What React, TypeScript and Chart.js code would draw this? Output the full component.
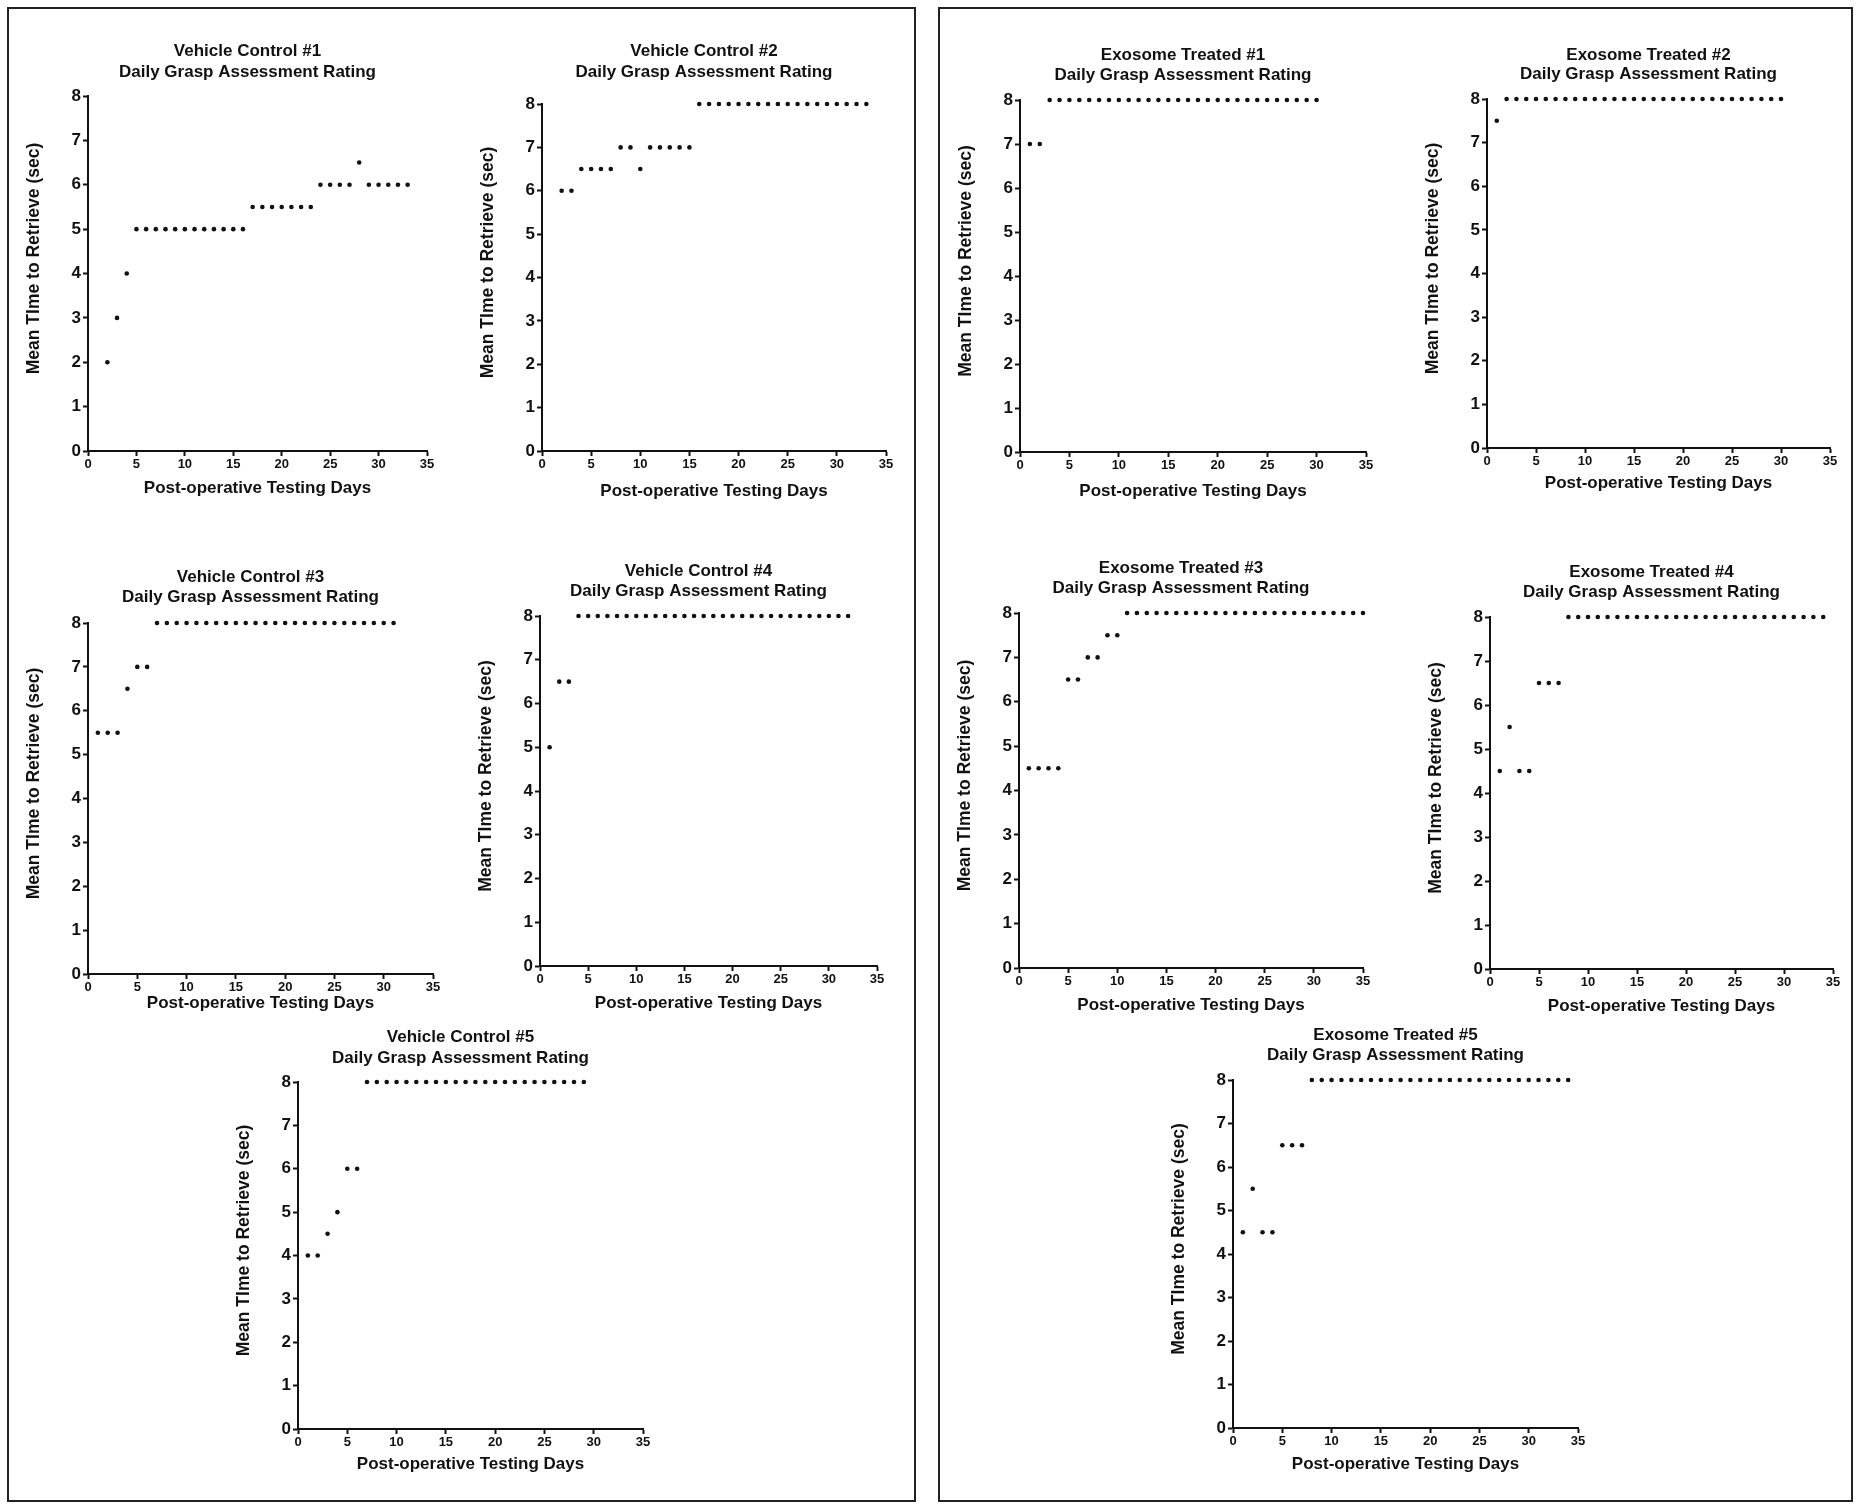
import React, { useEffect, useRef } from "react";
import { Chart, registerables } from "chart.js";

Chart.register(...registerables);

const FONT = '"Liberation Sans", Arial, Helvetica, sans-serif';
const INK = "#111";

// ---------- Data ----------
const xTicks = [0, 5, 10, 15, 20, 25, 30, 35];
const yTicks = [0, 1, 2, 3, 4, 5, 6, 7, 8];
const subtitle = "Daily Grasp Assessment Rating";
const xAxisTitle = "Post-operative Testing Days";
const yAxisTitle = "Mean TIme to Retrieve (sec)";

const vc1Days = [2, 3, 4, 5, 6, 7, 8, 9, 10, 11, 12, 13, 14, 15, 16, 17, 18, 19, 20, 21, 22, 23, 24, 25, 26, 27, 28, 29, 30, 31, 32, 33];
const vc1Values = [2, 3, 4, 5, 5, 5, 5, 5, 5, 5, 5, 5, 5, 5, 5, 5.5, 5.5, 5.5, 5.5, 5.5, 5.5, 5.5, 6, 6, 6, 6, 6.5, 6, 6, 6, 6, 6];

const vc2Days = [2, 3, 4, 5, 6, 7, 8, 9, 10, 11, 12, 13, 14, 15, 16, 17, 18, 19, 20, 21, 22, 23, 24, 25, 26, 27, 28, 29, 30, 31, 32, 33];
const vc2Values = [6, 6, 6.5, 6.5, 6.5, 6.5, 7, 7, 6.5, 7, 7, 7, 7, 7, 8, 8, 8, 8, 8, 8, 8, 8, 8, 8, 8, 8, 8, 8, 8, 8, 8, 8];

const vc3Days = [1, 2, 3, 4, 5, 6, 7, 8, 9, 10, 11, 12, 13, 14, 15, 16, 17, 18, 19, 20, 21, 22, 23, 24, 25, 26, 27, 28, 29, 30, 31];
const vc3Values = [5.5, 5.5, 5.5, 6.5, 7, 7, 8, 8, 8, 8, 8, 8, 8, 8, 8, 8, 8, 8, 8, 8, 8, 8, 8, 8, 8, 8, 8, 8, 8, 8, 8];

const vc4Days = [1, 2, 3, 4, 5, 6, 7, 8, 9, 10, 11, 12, 13, 14, 15, 16, 17, 18, 19, 20, 21, 22, 23, 24, 25, 26, 27, 28, 29, 30, 31, 32];
const vc4Values = [5, 6.5, 6.5, 8, 8, 8, 8, 8, 8, 8, 8, 8, 8, 8, 8, 8, 8, 8, 8, 8, 8, 8, 8, 8, 8, 8, 8, 8, 8, 8, 8, 8];

const vc5Days = [1, 2, 3, 4, 5, 6, 7, 8, 9, 10, 11, 12, 13, 14, 15, 16, 17, 18, 19, 20, 21, 22, 23, 24, 25, 26, 27, 28, 29];
const vc5Values = [4, 4, 4.5, 5, 6, 6, 8, 8, 8, 8, 8, 8, 8, 8, 8, 8, 8, 8, 8, 8, 8, 8, 8, 8, 8, 8, 8, 8, 8];

const et1Days = [1, 2, 3, 4, 5, 6, 7, 8, 9, 10, 11, 12, 13, 14, 15, 16, 17, 18, 19, 20, 21, 22, 23, 24, 25, 26, 27, 28, 29, 30];
const et1Values = [7, 7, 8, 8, 8, 8, 8, 8, 8, 8, 8, 8, 8, 8, 8, 8, 8, 8, 8, 8, 8, 8, 8, 8, 8, 8, 8, 8, 8, 8];

const et2Days = [1, 2, 3, 4, 5, 6, 7, 8, 9, 10, 11, 12, 13, 14, 15, 16, 17, 18, 19, 20, 21, 22, 23, 24, 25, 26, 27, 28, 29, 30];
const et2Values = [7.5, 8, 8, 8, 8, 8, 8, 8, 8, 8, 8, 8, 8, 8, 8, 8, 8, 8, 8, 8, 8, 8, 8, 8, 8, 8, 8, 8, 8, 8];

const et3Days = [1, 2, 3, 4, 5, 6, 7, 8, 9, 10, 11, 12, 13, 14, 15, 16, 17, 18, 19, 20, 21, 22, 23, 24, 25, 26, 27, 28, 29, 30, 31, 32, 33, 34, 35];
const et3Values = [4.5, 4.5, 4.5, 4.5, 6.5, 6.5, 7, 7, 7.5, 7.5, 8, 8, 8, 8, 8, 8, 8, 8, 8, 8, 8, 8, 8, 8, 8, 8, 8, 8, 8, 8, 8, 8, 8, 8, 8];

const et4Days = [1, 2, 3, 4, 5, 6, 7, 8, 9, 10, 11, 12, 13, 14, 15, 16, 17, 18, 19, 20, 21, 22, 23, 24, 25, 26, 27, 28, 29, 30, 31, 32, 33, 34];
const et4Values = [4.5, 5.5, 4.5, 4.5, 6.5, 6.5, 6.5, 8, 8, 8, 8, 8, 8, 8, 8, 8, 8, 8, 8, 8, 8, 8, 8, 8, 8, 8, 8, 8, 8, 8, 8, 8, 8, 8];

const et5Days = [1, 2, 3, 4, 5, 6, 7, 8, 9, 10, 11, 12, 13, 14, 15, 16, 17, 18, 19, 20, 21, 22, 23, 24, 25, 26, 27, 28, 29, 30, 31, 32, 33, 34];
const et5Values = [4.5, 5.5, 4.5, 4.5, 6.5, 6.5, 6.5, 8, 8, 8, 8, 8, 8, 8, 8, 8, 8, 8, 8, 8, 8, 8, 8, 8, 8, 8, 8, 8, 8, 8, 8, 8, 8, 8];

const panelTitles = [
  "Vehicle Control #1", "Vehicle Control #2", "Exosome Treated #1", "Exosome Treated #2",
  "Vehicle Control #3", "Vehicle Control #4", "Exosome Treated #3", "Exosome Treated #4",
  "Vehicle Control #5", "Exosome Treated #5",
];
const panelDays = [vc1Days, vc2Days, et1Days, et2Days, vc3Days, vc4Days, et3Days, et4Days, vc5Days, et5Days];
const panelValues = [vc1Values, vc2Values, et1Values, et2Values, vc3Values, vc4Values, et3Values, et4Values, vc5Values, et5Values];

// ---------- Layout (plot-area pixel frames) ----------
// [left, right, top, bottom, xTitleOffset, title line1 offset, title line2 offset]
const frames: number[][] = [
  [88, 427, 96, 451, 38, -45, -24],
  [542, 886, 104, 451, 41, -53, -32],
  [1020, 1366, 100, 452, 40, -45, -25],
  [1487, 1830, 99, 448, 36, -44, -25],
  [88, 433, 623, 974, 30, -46, -26],
  [540, 877, 616, 966, 38, -45, -25],
  [1019, 1363, 613, 968, 38, -45, -25],
  [1490, 1833, 617, 969, 38, -45, -25],
  [298, 643, 1082, 1429, 36, -45, -24],
  [1233, 1578, 1080, 1428, 37, -45, -25],
];

const Y_AXIS_W = 64;
const PAD_TOP = 70;
const PAD_RIGHT = 20;

const panelText = {
  id: "panelText",
  afterDraw(chart: any, _args: any, opts: any) {
    const { ctx, chartArea } = chart;
    ctx.save();
    ctx.fillStyle = INK;
    ctx.textAlign = "center";
    ctx.textBaseline = "middle";
    ctx.font = `bold 17px ${FONT}`;
    const cx = (chartArea.left + chartArea.right) / 2 - 10;
    ctx.fillText(opts.line1, cx, chartArea.top + opts.t1);
    ctx.fillText(opts.line2, cx, chartArea.top + opts.t2);
    ctx.font = `bold 17.5px ${FONT}`;
    ctx.translate(chartArea.left - 54, (chartArea.top + chartArea.bottom) / 2 - 15);
    ctx.rotate(-Math.PI / 2);
    ctx.fillText(opts.yTitle, 0, 0);
    ctx.restore();
  },
};

function Panel({ idx }: { idx: number }) {
  const ref = useRef<HTMLCanvasElement>(null);
  const [l, r, t, b, xt, t1, t2] = frames[idx];
  const xAxisH = xt + 10;
  const width = Y_AXIS_W + (r - l) + PAD_RIGHT;
  const height = PAD_TOP + (b - t) + xAxisH + 2;
  const left = l - Y_AXIS_W;
  const top = t - PAD_TOP;

  useEffect(() => {
    const canvas = ref.current!;
    const days = panelDays[idx];
    const vals = panelValues[idx];
    const chart = new Chart(canvas, {
      type: "scatter",
      data: {
        datasets: [
          {
            data: days.map((d, i) => ({ x: d, y: vals[i] })),
            pointRadius: 2.3,
            pointBackgroundColor: INK,
            pointBorderWidth: 0,
            pointHoverRadius: 2.3,
            showLine: false,
            clip: false as any,
          },
        ],
      },
      options: {
        responsive: false,
        animation: false,
        devicePixelRatio: 1,
        events: [],
        layout: { padding: { top: PAD_TOP, right: PAD_RIGHT, left: 0, bottom: 2 } },
        plugins: {
          legend: { display: false },
          tooltip: { enabled: false },
          title: { display: false },
          panelText: { line1: panelTitles[idx], line2: subtitle, t1, t2, yTitle: yAxisTitle },
        } as any,
        scales: {
          x: {
            type: "linear",
            min: xTicks[0],
            max: xTicks[xTicks.length - 1],
            afterBuildTicks: (s: any) => {
              s.ticks = xTicks.map((v) => ({ value: v }));
            },
            afterFit: (s: any) => {
              s.height = xAxisH;
            },
            ticks: {
              color: INK,
              font: { family: FONT, size: 13, weight: "bold" },
              padding: 1,
              maxRotation: 0,
              autoSkip: false,
            },
            grid: {
              display: true,
              drawOnChartArea: false,
              drawTicks: true,
              tickLength: 5,
              tickColor: INK,
              tickWidth: 2,
            },
            border: { display: true, color: INK, width: 2 },
            title: {
              display: true,
              text: xAxisTitle,
              color: INK,
              font: { family: FONT, size: 17, weight: "bold", lineHeight: 1.2 },
              padding: 0,
            },
          },
          y: {
            type: "linear",
            min: yTicks[0],
            max: yTicks[yTicks.length - 1],
            afterBuildTicks: (s: any) => {
              s.ticks = yTicks.map((v) => ({ value: v }));
            },
            afterFit: (s: any) => {
              s.width = Y_AXIS_W;
            },
            ticks: {
              color: INK,
              font: { family: FONT, size: 17, weight: "bold" },
              padding: 2,
              autoSkip: false,
            },
            grid: {
              display: true,
              drawOnChartArea: false,
              drawTicks: true,
              tickLength: 5,
              tickColor: INK,
              tickWidth: 2,
            },
            border: { display: true, color: INK, width: 2 },
          },
        },
      },
      plugins: [panelText as any],
    });
    return () => chart.destroy();
  }, [idx]);

  return (
    <canvas
      ref={ref}
      width={width}
      height={height}
      style={{ position: "absolute", left, top, width, height }}
    />
  );
}

export default function App() {
  return (
    <div
      style={{
        position: "absolute",
        left: 0,
        top: 0,
        width: 1860,
        height: 1508,
        background: "#fff",
        overflow: "hidden",
      }}
    >
      <div
        style={{
          position: "absolute",
          left: 7,
          top: 7,
          width: 909,
          height: 1495,
          border: "2px solid #222",
          boxSizing: "border-box",
        }}
      />
      <div
        style={{
          position: "absolute",
          left: 938,
          top: 7,
          width: 915,
          height: 1495,
          border: "2px solid #222",
          boxSizing: "border-box",
        }}
      />
      {frames.map((_, i) => (
        <Panel key={i} idx={i} />
      ))}
    </div>
  );
}
